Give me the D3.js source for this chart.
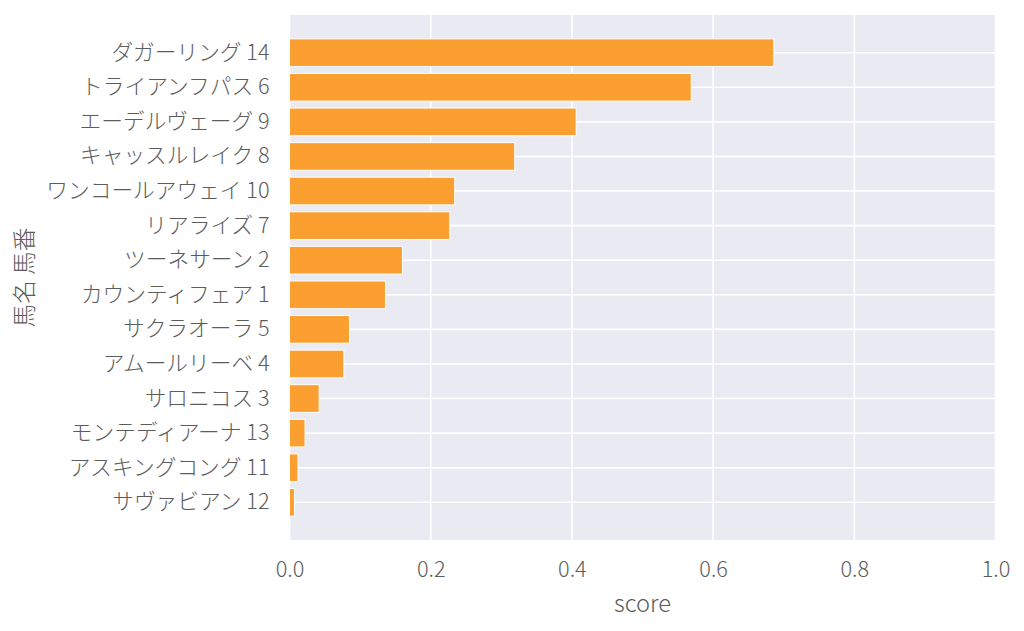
<!DOCTYPE html>
<html>
<head>
<meta charset="utf-8">
<script src="https://cdn.jsdelivr.net/npm/d3@7"></script>
<style>
  body { margin: 0; background: #fff; }
  text { font-family: "Noto Sans CJK JP Light", "Noto Sans CJK JP", "Noto Sans", sans-serif; font-weight: 200; }
</style>
</head>
<body>
<div id="chart"></div>
<script>
var horseNames = ["ダガーリング", "トライアンフパス", "エーデルヴェーグ", "キャッスルレイク", "ワンコールアウェイ", "リアライズ", "ツーネサーン", "カウンティフェア", "サクラオーラ", "アムールリーベ", "サロニコス", "モンテディアーナ", "アスキングコング", "サヴァビアン"]
var horseNumbers = [14, 6, 9, 8, 10, 7, 2, 1, 5, 4, 3, 13, 11, 12]
var scores = [0.686, 0.569, 0.406, 0.319, 0.234, 0.227, 0.160, 0.136, 0.085, 0.077, 0.042, 0.022, 0.012, 0.007]
var xTicks = [0, 0.2, 0.4, 0.6, 0.8, 1.0]

var width = 1024, height = 631
var margin = {left: 289.5, right: 28.5, top: 15, bottom: 91}
var bgFill = "#eaeaf2"
var barFill = "#fb9f30"
var textFill = "#5c5c5c"
var tickSize = 21.7
var labelSize = 23.7

var labels = horseNames.map(function(n, i) { return n + " " + horseNumbers[i] })

var svg = d3.select("div#chart").append("svg")
  .attr("width", width)
  .attr("height", height)

var x = d3.scaleLinear().domain([0, 1]).range([margin.left, width - margin.right])
var y = d3.scaleBand().domain(labels).range([margin.top, height - margin.bottom])
  .paddingInner(0.2).paddingOuter(0.69)

svg.append("rect")
  .attr("x", margin.left).attr("y", margin.top)
  .attr("width", width - margin.right - margin.left)
  .attr("height", height - margin.bottom - margin.top)
  .attr("fill", bgFill)

// grid
svg.selectAll("line.vgrid").data(xTicks).enter().append("line")
  .attr("class", "vgrid")
  .attr("x1", d => x(d)).attr("x2", d => x(d))
  .attr("y1", margin.top).attr("y2", height - margin.bottom)
  .attr("stroke", "#fff").attr("stroke-width", 1.6)

svg.selectAll("line.hgrid").data(labels).enter().append("line")
  .attr("class", "hgrid")
  .attr("x1", margin.left).attr("x2", width - margin.right)
  .attr("y1", d => y(d) + y.bandwidth() / 2).attr("y2", d => y(d) + y.bandwidth() / 2)
  .attr("stroke", "#fff").attr("stroke-width", 1.6)

// bars
svg.selectAll("rect.bar").data(scores).enter().append("rect")
  .attr("class", "bar")
  .attr("x", x(0))
  .attr("y", (d, i) => y(labels[i]))
  .attr("width", d => x(d) - x(0))
  .attr("height", y.bandwidth())
  .attr("fill", barFill)
  .attr("stroke", "#fff")
  .attr("stroke-width", 1)

// axes
var xAxis = svg.append("g")
  .attr("transform", "translate(0," + (height - margin.bottom) + ")")
  .call(d3.axisBottom(x).tickValues(xTicks).tickFormat(d3.format(".1f")).tickSize(0).tickPadding(22))
xAxis.select(".domain").remove()
xAxis.selectAll("text").attr("font-size", tickSize).attr("fill", textFill)

var yAxis = svg.append("g")
  .attr("transform", "translate(" + margin.left + ",0)")
  .call(d3.axisLeft(y).tickSize(0).tickPadding(20))
yAxis.select(".domain").remove()
yAxis.selectAll("text").attr("font-size", tickSize).attr("fill", textFill)
yAxis.attr("font-family", null)
xAxis.attr("font-family", null)

svg.append("text")
  .attr("x", (margin.left + width - margin.right) / 2)
  .attr("y", 612)
  .attr("text-anchor", "middle")
  .attr("font-size", labelSize)
  .attr("fill", textFill)
  .text("score")

svg.append("text")
  .attr("transform", "translate(33," + ((margin.top + height - margin.bottom) / 2) + ") rotate(-90)")
  .attr("text-anchor", "middle")
  .attr("font-size", labelSize)
  .attr("fill", textFill)
  .text("馬名 馬番")
</script>
</body>
</html>
